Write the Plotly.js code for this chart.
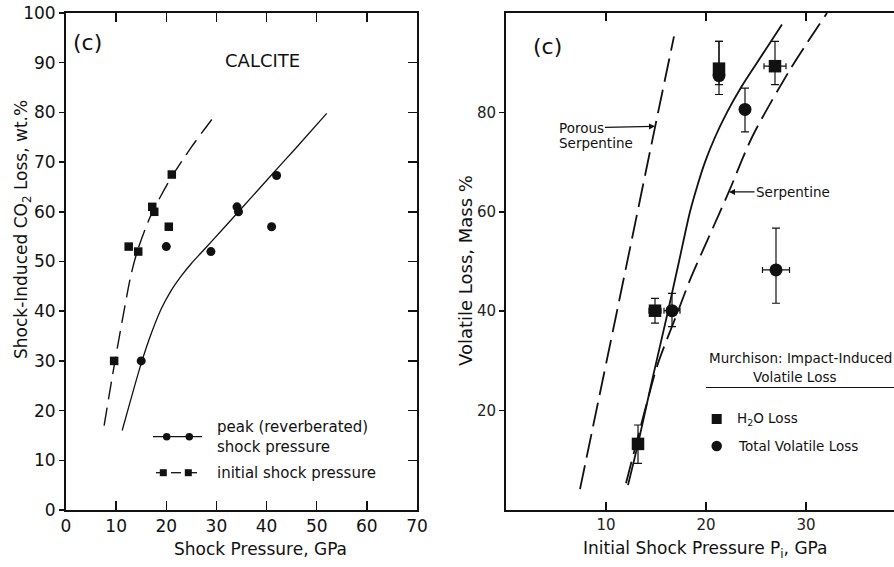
<!DOCTYPE html>
<html><head><meta charset="utf-8">
<script src="https://cdn.plot.ly/plotly-3.0.1.min.js"></script>
<style>html,body{margin:0;padding:0;background:#fff;}#chart{width:894px;height:567px;}</style>
</head><body><div id="chart"></div>
<script>
// ---------- Left panel: Calcite ----------
const calciteInitialP    = [9.6, 12.5, 14.4, 17.2, 17.6, 20.5, 21.1];
const calciteInitialLoss = [30, 53, 52, 61, 60, 57, 67.5];
const calcitePeakP       = [15.0, 20.0, 28.9, 34.1, 34.4, 41.0, 42.0];
const calcitePeakLoss    = [30, 53, 52, 61, 60, 57, 67.3];
const initialCurveP      = [7.6, 9.6, 11.2, 12.9, 14.2, 16.8, 20.7, 25, 30];
const initialCurveLoss   = [17, 29, 38, 47, 52, 59, 66.4, 73, 79.8];
const peakCurveP         = [11.2, 13, 15, 17, 19, 21, 23, 25, 27, 29, 34.4, 40, 46, 52];
const peakCurveLoss      = [16, 22.5, 29.5, 35.5, 40.5, 44.2, 47.1, 49.6, 51.8, 54, 60, 66.3, 73, 79.8];
const leftXTicks = [0, 10, 20, 30, 40, 50, 60, 70];
const leftYTicks = [0, 10, 20, 30, 40, 50, 60, 70, 80, 90, 100];

// ---------- Right panel: Murchison ----------
const h2oP          = [13.2, 14.9, 21.3, 26.9];
const h2oLoss       = [13.3, 40.1, 88.8, 89.3];
const h2oErrPlus    = [3.8, 2.5, 5.5, 5.0];
const h2oErrMinus   = [3.9, 2.5, 3.2, 3.7];
const h2oErrX       = [0, 0.6, 0, 1.1];
const totalP        = [16.6, 21.3, 23.9, 27.0];
const totalLoss     = [40.1, 87.4, 80.6, 48.3];
const totalErrPlus  = [3.5, 6.9, 4.3, 8.4];
const totalErrMinus = [3.2, 3.8, 4.5, 6.7];
const totalErrX     = [0.8, 0, 0, 1.35];
const porousP       = [7.4, 11.1, 14.9, 16.8];
const porousLoss    = [4.2, 40, 77, 95.3];
const serpDashP     = [12.0, 13.9, 15.2, 17.2, 18.4, 20.3, 22.3, 24.6, 28.4, 32.1];
const serpDashLoss  = [5.4, 20.1, 29.5, 40, 46.3, 55, 64.1, 75, 88.6, 100];
const serpSolidP    = [12.2, 13.2, 14.6, 16.2, 17.3, 18.4, 19.1, 19.9, 20.9, 22.1, 23.5, 25.1, 27.6];
const serpSolidLoss = [5, 13.3, 26, 40, 50, 60, 65, 70, 75, 80, 85, 90, 97.7];
const rightXTicks = [10, 20, 30];
const rightYTicks = [20, 40, 60, 80];

const W = 894, H = 567;
const X = px => px / W;
const Y = py => 1 - py / H;
const INK = '#111';
const FONT = 'DejaVu Sans, Liberation Sans, sans-serif';

const traces = [
  {x: initialCurveP, y: initialCurveLoss, xaxis: 'x', yaxis: 'y', mode: 'lines',
   line: {color: INK, width: 1.4, dash: '18px,8px', shape: 'spline', smoothing: 0.8}, hoverinfo: 'skip'},
  {x: peakCurveP, y: peakCurveLoss, xaxis: 'x', yaxis: 'y', mode: 'lines',
   line: {color: INK, width: 1.3, shape: 'spline', smoothing: 0.8}, hoverinfo: 'skip'},
  {x: calciteInitialP, y: calciteInitialLoss, xaxis: 'x', yaxis: 'y', mode: 'markers',
   marker: {symbol: 'square', size: 8.5, color: INK}},
  {x: calcitePeakP, y: calcitePeakLoss, xaxis: 'x', yaxis: 'y', mode: 'markers',
   marker: {symbol: 'circle', size: 9, color: INK}},
  {x: [], y: [], xaxis: 'x', yaxis: 'y3', mode: 'markers', hoverinfo: 'skip'},

  {x: porousP, y: porousLoss, xaxis: 'x2', yaxis: 'y2', mode: 'lines',
   line: {color: INK, width: 1.8, dash: '24px,8px', shape: 'spline', smoothing: 0.6}, hoverinfo: 'skip'},
  {x: serpDashP, y: serpDashLoss, xaxis: 'x2', yaxis: 'y2', mode: 'lines',
   line: {color: INK, width: 1.8, dash: '22px,8px', shape: 'spline', smoothing: 0.8}, hoverinfo: 'skip'},
  {x: serpSolidP, y: serpSolidLoss, xaxis: 'x2', yaxis: 'y2', mode: 'lines',
   line: {color: INK, width: 1.8, shape: 'spline', smoothing: 0.8}, hoverinfo: 'skip'},
  {x: totalP, y: totalLoss, xaxis: 'x2', yaxis: 'y2', mode: 'markers',
   marker: {symbol: 'circle', size: 13, color: INK},
   error_y: {type: 'data', symmetric: false, array: totalErrPlus, arrayminus: totalErrMinus, color: INK, thickness: 1.2, width: 4},
   error_x: {type: 'data', array: totalErrX, color: INK, thickness: 1.2, width: 3}},
  {x: h2oP, y: h2oLoss, xaxis: 'x2', yaxis: 'y2', mode: 'markers',
   marker: {symbol: 'square', size: 12.5, color: INK},
   error_y: {type: 'data', symmetric: false, array: h2oErrPlus, arrayminus: h2oErrMinus, color: INK, thickness: 1.2, width: 4},
   error_x: {type: 'data', array: h2oErrX, color: INK, thickness: 1.2, width: 3}}
];

const axBase = {showgrid: false, zeroline: false, showline: true, linecolor: INK, linewidth: 2,
  tickcolor: INK, tickwidth: 1.5, tickfont: {family: FONT, size: 17, color: INK}};

const layout = {
  width: W, height: H, margin: {l: 0, r: 0, t: 0, b: 0},
  paper_bgcolor: '#fff', plot_bgcolor: 'rgba(0,0,0,0)', showlegend: false,
  font: {family: FONT, color: INK},
  xaxis: Object.assign({}, axBase, {domain: [X(66), X(417)], range: [0, 70], anchor: 'y',
    tickmode: 'array', tickvals: leftXTicks, ticks: 'inside', ticklen: 9, mirror: 'ticks'}),
  yaxis: Object.assign({}, axBase, {domain: [Y(510), Y(13)], range: [0, 100], anchor: 'x',
    tickmode: 'array', tickvals: leftYTicks, ticks: 'outside', ticklen: 5}),
  yaxis3: Object.assign({}, axBase, {overlaying: 'y', side: 'right', anchor: 'x', range: [0, 100],
    tickmode: 'array', tickvals: leftYTicks, ticks: 'inside', ticklen: 9, showticklabels: false}),
  xaxis2: Object.assign({}, axBase, {domain: [X(506), 1], range: [0, 38.8], anchor: 'y2',
    tickmode: 'array', tickvals: rightXTicks, ticks: 'inside', ticklen: 8, mirror: 'ticks',
    tickfont: {family: FONT, size: 15, color: '#222'}}),
  yaxis2: Object.assign({}, axBase, {domain: [Y(510), Y(13)], range: [0, 100], anchor: 'x2',
    tickmode: 'array', tickvals: rightYTicks, ticks: 'outside', ticklen: 5,
    tickfont: {family: FONT, size: 15, color: '#222'}}),
  annotations: [],
  shapes: []
};

function txt(text, px, py, size, opts) {
  return Object.assign({text: text, xref: 'paper', yref: 'paper', x: X(px), y: Y(py),
    showarrow: false, font: {family: FONT, size: size, color: INK}, xanchor: 'center', yanchor: 'middle'}, opts || {});
}
const A = layout.annotations;
// left panel texts
A.push(txt('(c)', 87, 42, 22));
A.push(txt('CALCITE', 262, 60, 18));
A.push(txt('Shock-Induced CO<sub>2</sub> Loss, wt.%', 22, 230, 17, {textangle: -90}));
A.push(txt('Shock Pressure, GPa', 260, 549, 17));
A.push(txt('peak (reverberated)<br>shock pressure', 215, 436.5, 15, {xanchor: 'left', align: 'left'}));
A.push(txt('initial shock pressure', 215, 472.5, 15, {xanchor: 'left'}));
// right panel texts
A.push(txt('(c)', 547, 46, 22));
A.push(txt('Volatile Loss, Mass %', 465, 271, 18, {textangle: -90}));
A.push(txt('Initial Shock Pressure P<sub>i</sub>, GPa', 705, 549, 17));
A.push({text: 'Porous', xref: 'x2', yref: 'y2', x: 14.9, y: 77.2, axref: 'pixel', ayref: 'pixel',
  ax: -74, ay: 1.5, showarrow: true, arrowhead: 2, arrowsize: 1, arrowwidth: 1.2, arrowcolor: INK,
  standoff: 0, font: {family: FONT, size: 13.5, color: INK}});
A.push(txt('Serpentine', 557, 143, 13.5, {xanchor: 'left'}));
A.push({text: 'Serpentine', xref: 'x2', yref: 'y2', x: 22.3, y: 64.0, axref: 'pixel', ayref: 'pixel',
  ax: 64, ay: 0, showarrow: true, arrowhead: 2, arrowsize: 1, arrowwidth: 1.2, arrowcolor: INK,
  standoff: 0, font: {family: FONT, size: 13.5, color: INK}});
A.push(txt('Murchison: Impact-Induced', 707, 358, 13.5, {xanchor: 'left'}));
A.push(txt('Volatile Loss', 794, 377, 13.5));
A.push(txt('H<sub>2</sub>O Loss', 735, 419, 13.5, {xanchor: 'left'}));
A.push(txt('Total Volatile Loss', 736, 446, 13.5, {xanchor: 'left'}));

const S = layout.shapes;
function seg(x0, x1, py, w) {
  return {type: 'line', xref: 'paper', yref: 'paper', x0: X(x0), x1: X(x1), y0: Y(py), y1: Y(py),
    line: {color: INK, width: w || 1.3}};
}
function dot(cx, cy, d) {
  return {type: 'circle', xref: 'paper', yref: 'paper', x0: X(cx - d / 2), x1: X(cx + d / 2),
    y0: Y(cy + d / 2), y1: Y(cy - d / 2), fillcolor: INK, line: {width: 0}};
}
function box(cx, cy, d) {
  return {type: 'rect', xref: 'paper', yref: 'paper', x0: X(cx - d / 2), x1: X(cx + d / 2),
    y0: Y(cy + d / 2), y1: Y(cy - d / 2), fillcolor: INK, line: {width: 0}};
}
// left legend glyphs
S.push(seg(153, 202, 436.7));
S.push(dot(166.7, 436.7, 7.5));
S.push(dot(189.3, 436.7, 7.5));
S.push(seg(156, 163, 472.7));
S.push(seg(171, 181, 472.7));
S.push(seg(190, 197, 472.7));
S.push(box(163.3, 472.7, 7));
S.push(box(188.3, 472.7, 7));
// right legend
S.push(seg(706, 894, 387.5, 1.2));
S.push(box(716.7, 419, 10));
S.push(dot(716.7, 446, 10.5));

Plotly.newPlot('chart', traces, layout, {staticPlot: true, displayModeBar: false});
</script>
</body></html>
